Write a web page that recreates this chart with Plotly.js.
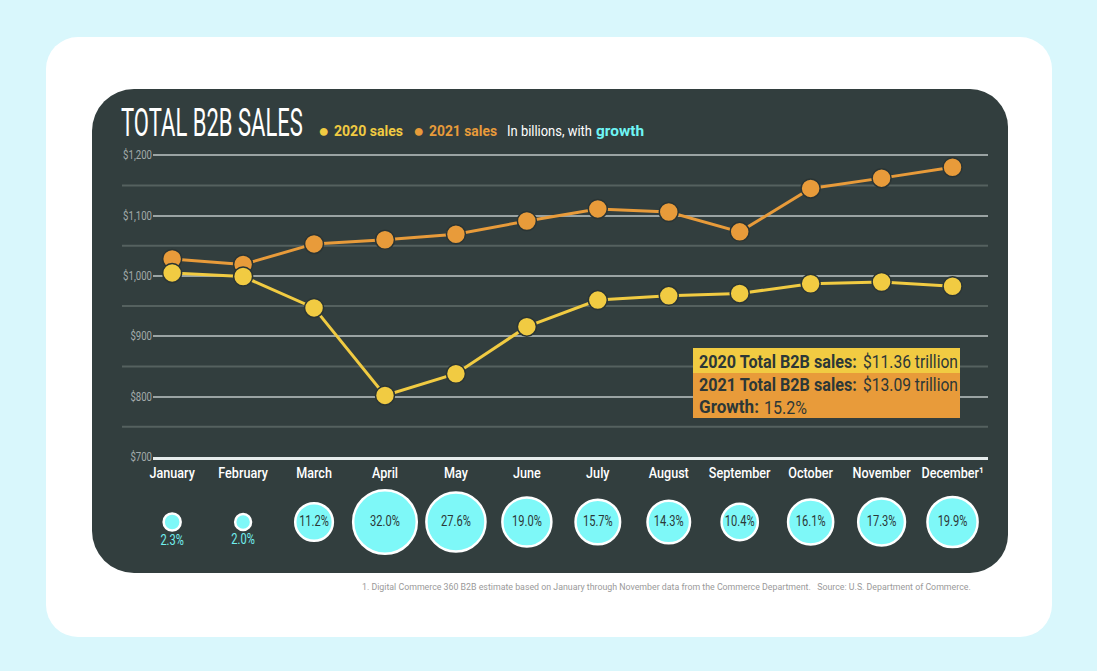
<!DOCTYPE html>
<html>
<head>
<meta charset="utf-8">
<script src="https://cdn.plot.ly/plotly-3.0.1.min.js"></script>
<style>
  html, body { margin: 0; padding: 0; width: 1097px; height: 671px; overflow: hidden; background: #d9f7fc; }
  #card { position: absolute; left: 46px; top: 37px; width: 1006px; height: 600px; background: #ffffff; border-radius: 32px; }
  #panel { position: absolute; left: 92px; top: 89px; width: 916px; height: 484px; background: #323e3e; border-radius: 42px 38px 38px 42px; }
  #chart { position: absolute; left: 0; top: 0; width: 1097px; height: 671px; }
</style>
</head>
<body>
<div id="card"></div>
<div id="panel"></div>
<div id="chart"></div>
<script>
// ---- data ----
const months = ['January','February','March','April','May','June','July','August','September','October','November','December'];
const sales2020 = [1005, 999, 947, 802, 838, 916, 960, 967, 971, 987, 990, 983];
const sales2021 = [1028, 1019, 1053, 1060, 1069, 1091, 1111, 1106, 1073, 1145, 1162, 1180];
const growthPct = [2.3, 2.0, 11.2, 32.0, 27.6, 19.0, 15.7, 14.3, 10.4, 16.1, 17.3, 19.9];
const yTickVals = [700, 800, 900, 1000, 1100, 1200];
const yTickText = ['$700', '$800', '$900', '$1,000', '$1,100', '$1,200'];
const monthLabels = months.map((m, i) => i === months.length - 1 ? m + '\u00B9' : m);

// ---- style ----
const F = 'Roboto, "Liberation Sans", sans-serif';
const YELLOW = '#f1cb42', ORANGE = '#e89b3a', CYAN = '#7ef8f8', DARK = '#2c3737';
const CAP = 0.711; // cap height / em for Roboto

// plot area in pixels (for placing text in paper coords)
const L = 153, R = 988, T = 154, B = 560;
const px = x => (x - L) / (R - L);
const py = y => (B - y) / (B - T);

const trace2021 = {
  x: months, y: sales2021, type: 'scatter', mode: 'lines+markers', name: '2021 sales',
  line: { color: ORANGE, width: 3 },
  marker: { color: ORANGE, size: 19, line: { color: '#2a3434', width: 1.5 } },
  cliponaxis: false, hoverinfo: 'x+y'
};
const trace2020 = {
  x: months, y: sales2020, type: 'scatter', mode: 'lines+markers', name: '2020 sales',
  line: { color: YELLOW, width: 3 },
  marker: { color: YELLOW, size: 19, line: { color: '#2a3434', width: 1.5 } },
  cliponaxis: false, hoverinfo: 'x+y'
};
const bubbles = {
  x: months, y: months.map(() => 0), type: 'scatter', mode: 'markers+text',
  xaxis: 'x', yaxis: 'y2', name: 'growth',
  marker: { color: CYAN, opacity: 1, size: growthPct, sizemode: 'area', sizeref: 0.0158, line: { color: '#ffffff', width: 2.5 } },
  text: growthPct.map(v => v.toFixed(1) + '%'),
  textposition: growthPct.map(v => v < 5 ? 'bottom center' : 'middle center'),
  textfont: { family: F, size: 15, color: growthPct.map(v => v < 5 ? '#72f0f0' : DARK) },
  cliponaxis: false, hoverinfo: 'x+text'
};

// minor gridlines extend slightly further left than the major ones
const minorVals = yTickVals.slice(0, -1).map((v, i) => (v + yTickVals[i + 1]) / 2);
const shapes = minorVals.map(v => ({
  type: 'line', xref: 'paper', yref: 'y', x0: px(122), x1: 1, y0: v, y1: v,
  line: { color: '#55615f', width: 2 }, layer: 'below'
}));
// summary box backgrounds
shapes.push({ type: 'rect', xref: 'paper', yref: 'paper', x0: px(693), x1: px(960), y0: py(373), y1: py(348),
  fillcolor: YELLOW, line: { width: 0 }, layer: 'above' });
shapes.push({ type: 'rect', xref: 'paper', yref: 'paper', x0: px(693), x1: px(960), y0: py(418), y1: py(373),
  fillcolor: ORANGE, line: { width: 0 }, layer: 'above' });

// text pieces: [text, left px, centre y px, cap height px, colour, bold, target width px (condensed face)]
const textPieces = [
  ['TOTAL B2B SALES', 119, 123, 28, '#ffffff', false, 182],
  ['●', 316, 131, 13, YELLOW, false, 0],
  ['2020 sales', 332, 131, 10.5, YELLOW, true, 69],
  ['●', 411, 131, 13, ORANGE, false, 0],
  ['2021 sales', 427, 131, 10.5, ORANGE, true, 68],
  ['In billions, with', 505, 131, 10.5, '#ffffff', false, 85],
  ['growth', 594, 131, 10.5, '#6ff5f5', true, 48],
  ['2020 Total B2B sales:', 697, 362, 12.5, DARK, true, 158],
  ['$11.36 trillion', 861, 362, 12.5, DARK, false, 95],
  ['2021 Total B2B sales:', 697, 385, 12.5, DARK, true, 158],
  ['$13.09 trillion', 861, 385, 12.5, DARK, false, 95],
  ['Growth:', 697, 407, 12.5, DARK, true, 60],
  ['15.2%', 762, 407, 12.5, DARK, false, 43]
];
const annotations = textPieces.map(p => ({
  xref: 'paper', yref: 'paper', x: px(p[1]), y: py(p[2]), xanchor: 'left', yanchor: 'middle', align: 'left',
  showarrow: false, text: p[5] ? '<b>' + p[0] + '</b>' : p[0],
  font: { family: F, size: p[3] / CAP, color: p[4] }
}));
annotations.push({ xref: 'paper', yref: 'paper', x: px(973), y: py(587), xanchor: 'right', yanchor: 'middle', align: 'right', showarrow: false,
  font: { family: F, size: 8.8, color: '#9a9a9a' },
  text: '1. Digital Commerce 360 B2B estimate based on January through November data from the Commerce Department.   Source: U.S. Department of Commerce.' });

const layout = {
  width: 1097, height: 671,
  margin: { l: L, r: 1097 - R, t: T, b: 671 - B, pad: 0 },
  paper_bgcolor: 'rgba(0,0,0,0)', plot_bgcolor: 'rgba(0,0,0,0)',
  showlegend: false,
  font: { family: F, color: '#ffffff' },
  xaxis: {
    type: 'category', range: [-0.27, 11.5], anchor: 'y', tickangle: 0,
    tickvals: months, ticktext: monthLabels,
    showgrid: false, zeroline: false, showline: true, linecolor: '#e6ecec', linewidth: 2.5,
    ticks: '', tickfont: { family: F, size: 15, color: '#ffffff', weight: 500 }, fixedrange: true
  },
  yaxis: {
    domain: [py(457), 1], range: [700, 1202],
    tickvals: yTickVals, ticktext: yTickText,
    showgrid: true, gridcolor: '#9aa3a3', gridwidth: 2, zeroline: false, showline: false,
    ticks: '', tickfont: { family: F, size: 12, color: '#a3abab' }, fixedrange: true
  },
  yaxis2: {
    domain: [0, 2 * py(522)], range: [-1, 1], anchor: 'x', visible: false, fixedrange: true
  },
  shapes: shapes,
  annotations: annotations
};

function squash(el, f) {
  const len = el.getComputedTextLength();
  if (len > 0) {
    el.setAttribute('textLength', (len * f).toFixed(1));
    el.setAttribute('lengthAdjust', 'spacingAndGlyphs');
  }
}

const gdiv = document.getElementById('chart');
Plotly.newPlot(gdiv, [trace2021, trace2020, bubbles], layout, { displayModeBar: false, staticPlot: true })
  .then(gd => {
    // pass 1: choose each piece's font size so its natural width fits the condensed width
    const upd = {};
    const stretch = [];
    gd.querySelectorAll('.annotation-text').forEach((t, i) => {
      if (i >= textPieces.length) return;
      const target = textPieces[i][6];
      const base = textPieces[i][3] / CAP;
      if (target > 0) {
        const w = t.getComputedTextLength();
        const s = base * target / w;
        upd['annotations[' + i + '].font.size'] = s;
        stretch[i] = base / s;
      }
    });
    return Plotly.relayout(gd, upd).then(() => stretch);
  })
  .then(stretch => {
    // pass 2: stretch the glyphs back to their tall, condensed shape
    gdiv.querySelectorAll('.annotation-text').forEach((t, i) => {
      if (stretch[i]) {
        t.style.transformBox = 'fill-box';
        t.style.transformOrigin = 'center';
        t.style.transform = 'scaleY(' + stretch[i].toFixed(3) + ')';
      }
    });
    gdiv.querySelectorAll('.xtick text').forEach(t => squash(t, 0.84));
    gdiv.querySelectorAll('.ytick text').forEach(t => squash(t, 0.8));
    gdiv.querySelectorAll('.textpoint text').forEach(t => squash(t, 0.74));
  });
</script>
</body>
</html>
